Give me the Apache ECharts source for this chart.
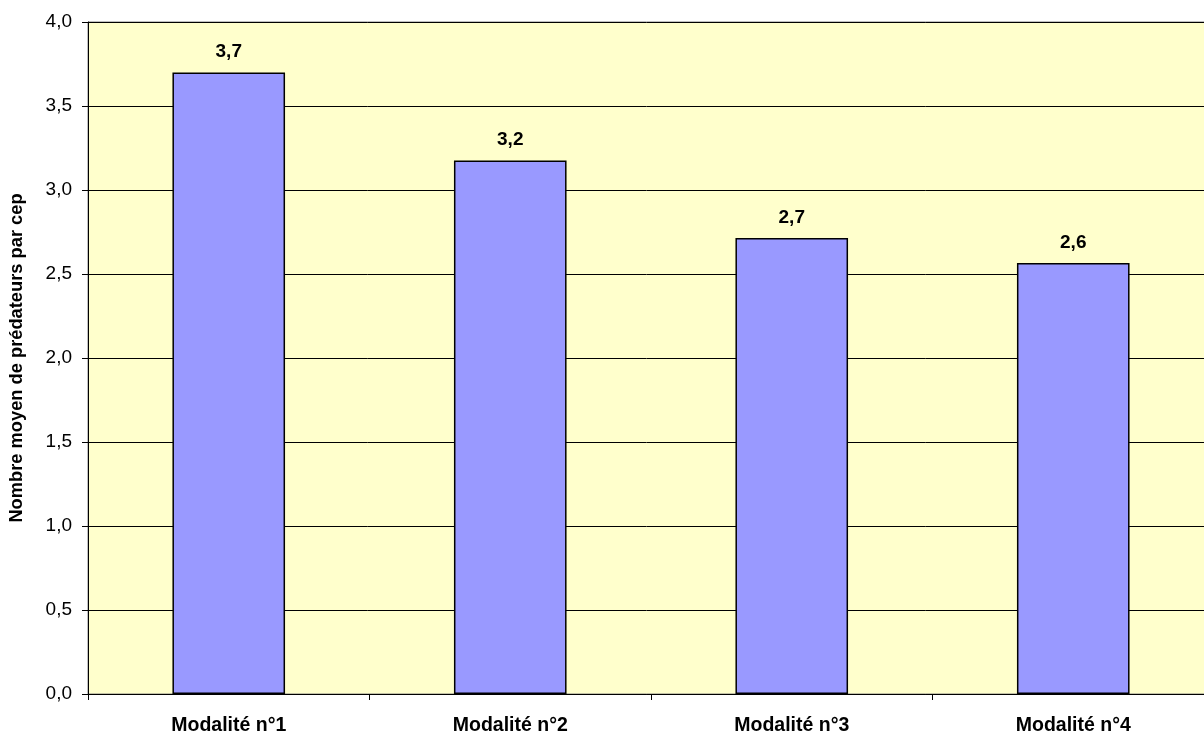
<!DOCTYPE html>
<html>
<head>
<meta charset="utf-8">
<script src="https://cdn.jsdelivr.net/npm/echarts@6/dist/echarts.min.js"></script>
<style>
  html, body { margin: 0; padding: 0; background: #ffffff; }
  #chart { width: 1204px; height: 734px; }
</style>
</head>
<body>
<div id="chart"></div>
<script>
// Mean number of predators per vine stock, by treatment
const categories = ['Modalité n°1', 'Modalité n°2', 'Modalité n°3', 'Modalité n°4'];
const meanPredators = [3.70, 3.175, 2.714, 2.566];
const yTicks = [0, 0.5, 1, 1.5, 2, 2.5, 3, 3.5, 4];

const fmt = v => v.toFixed(1).replace('.', ',');
const font = '"Liberation Sans", Arial, sans-serif';

const chart = echarts.init(document.getElementById('chart'), null, { renderer: 'canvas' });
chart.setOption({
  animation: false,
  grid: {
    left: 88, right: -10, top: 22, bottom: 40,
    outerBoundsMode: 'none',
    containLabel: false,
    show: true,
    backgroundColor: '#FFFFCC',
    borderColor: '#808080',
    borderWidth: 1
  },
  xAxis: {
    type: 'category',
    data: categories,
    axisLine: { lineStyle: { color: '#000', width: 1 } },
    axisTick: { show: true, length: 6, lineStyle: { color: '#000' } },
    axisLabel: {
      color: '#000', fontFamily: font, fontSize: 19.5, fontWeight: 'bold', margin: 22
    },
    splitLine: { show: false }
  },
  yAxis: {
    type: 'value',
    min: 0, max: 4, interval: 0.5,
    name: 'Nombre moyen de prédateurs par cep',
    nameLocation: 'middle',
    nameGap: 62,
    nameTextStyle: { color: '#000', fontFamily: font, fontSize: 18.3, fontWeight: 'bold' },
    axisLine: { show: true, lineStyle: { color: '#000', width: 1 } },
    axisTick: { show: true, length: 6, lineStyle: { color: '#000' } },
    axisLabel: {
      color: '#000', fontFamily: font, fontSize: 19, margin: 16,
      formatter: v => yTicks.includes(v) ? fmt(v) : ''
    },
    splitLine: { show: true, lineStyle: { color: '#000', width: 1 } }
  },
  series: [{
    type: 'bar',
    data: meanPredators,
    barWidth: '40%',
    itemStyle: { color: '#9999FF', borderColor: '#000', borderWidth: 1.5 },
    label: {
      show: true, position: 'top', distance: 11,
      color: '#000', fontFamily: font, fontSize: 19, fontWeight: 'bold',
      formatter: p => fmt(p.value)
    }
  }]
});
</script>
</body>
</html>
